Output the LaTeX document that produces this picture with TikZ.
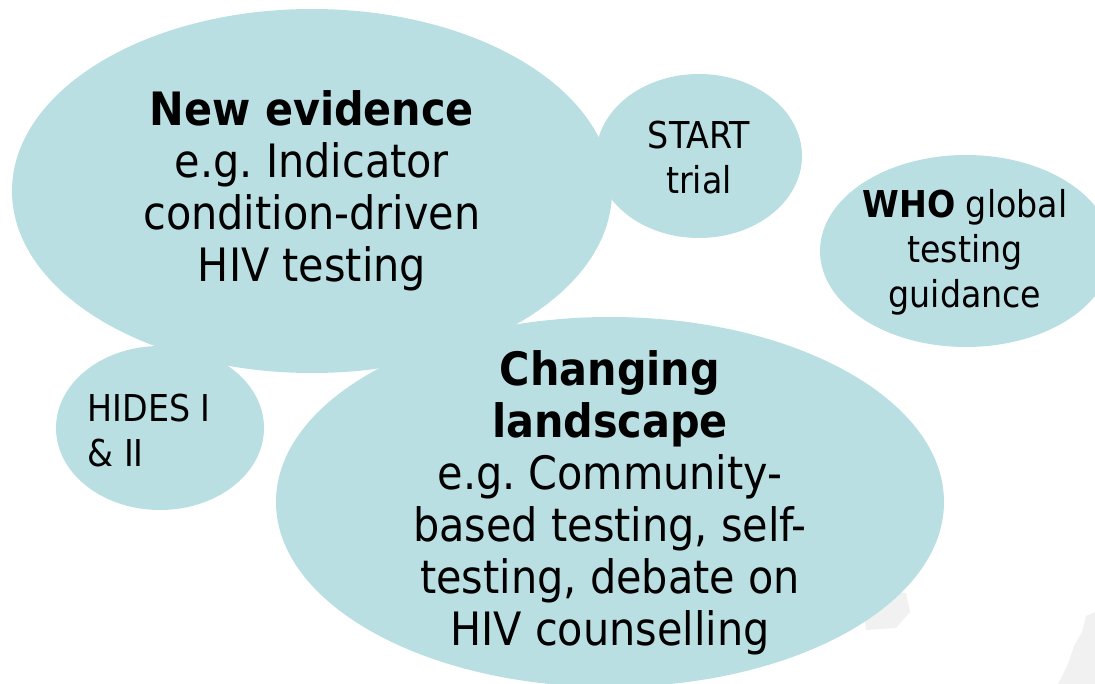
\documentclass[tikz,border=0pt]{standalone}
\usepackage{fontspec}
\setmainfont{DejaVu Sans Condensed}
\usepackage{tikz}
\usetikzlibrary{shapes.geometric}
\usepackage{xcolor}
\definecolor{bubble}{RGB}{186,223,227}
\definecolor{mapgray}{RGB}{241,241,241}
\frenchspacing

\begin{document}
\begin{tikzpicture}[x=1pt, y=-1pt,
  bub/.style={ellipse, fill=bubble, inner sep=0pt},
  big/.style={align=center, font=\fontsize{46}{52}\selectfont},
  small/.style={align=center, font=\fontsize{37}{45}\selectfont}]
  \useasboundingbox (0,0) rectangle (1095,684);

  % faint map pieces in the corner
  \fill[mapgray] (862,598) -- (884,590) -- (906,593) -- (910,612) -- (896,628) -- (866,630) -- cycle;
  \fill[mapgray] (1095,612) -- (1086,616) -- (1082,632) -- (1074,646) -- (1068,664) -- (1058,684) -- (1095,684) -- cycle;

  % bubbles
  \node[bub, minimum width=600, minimum height=364] (evid) at (312,191) {};
  \node[bub, minimum width=206, minimum height=164] (start) at (699,156) {};
  \node[bub, minimum width=292, minimum height=192] (who) at (966,251) {};
  \node[bub, minimum width=208, minimum height=164] (hides) at (160,428) {};
  \node[bub, minimum width=668, minimum height=370] (land) at (610,502) {};

  % texts
  \node[big] (evidtxt) at (evid.center)
       {\textbf{New evidence}\\e.g. Indicator\\condition-driven\\HIV testing};
  \node[small] (starttxt) at (699,158) {START\\trial};
  \node[small] (whotxt) at (965,252) {\textbf{WHO} global\\testing\\guidance};
  \node[small, align=left, anchor=west] (hidestxt) at (84,431) {HIDES I\\\& II};
  \node[big] (landtxt) at (610,503)
       {\textbf{Changing}\\\textbf{landscape}\\e.g. Community-\\based testing, self-\\testing, debate on\\HIV counselling};
\end{tikzpicture}
\end{document}
